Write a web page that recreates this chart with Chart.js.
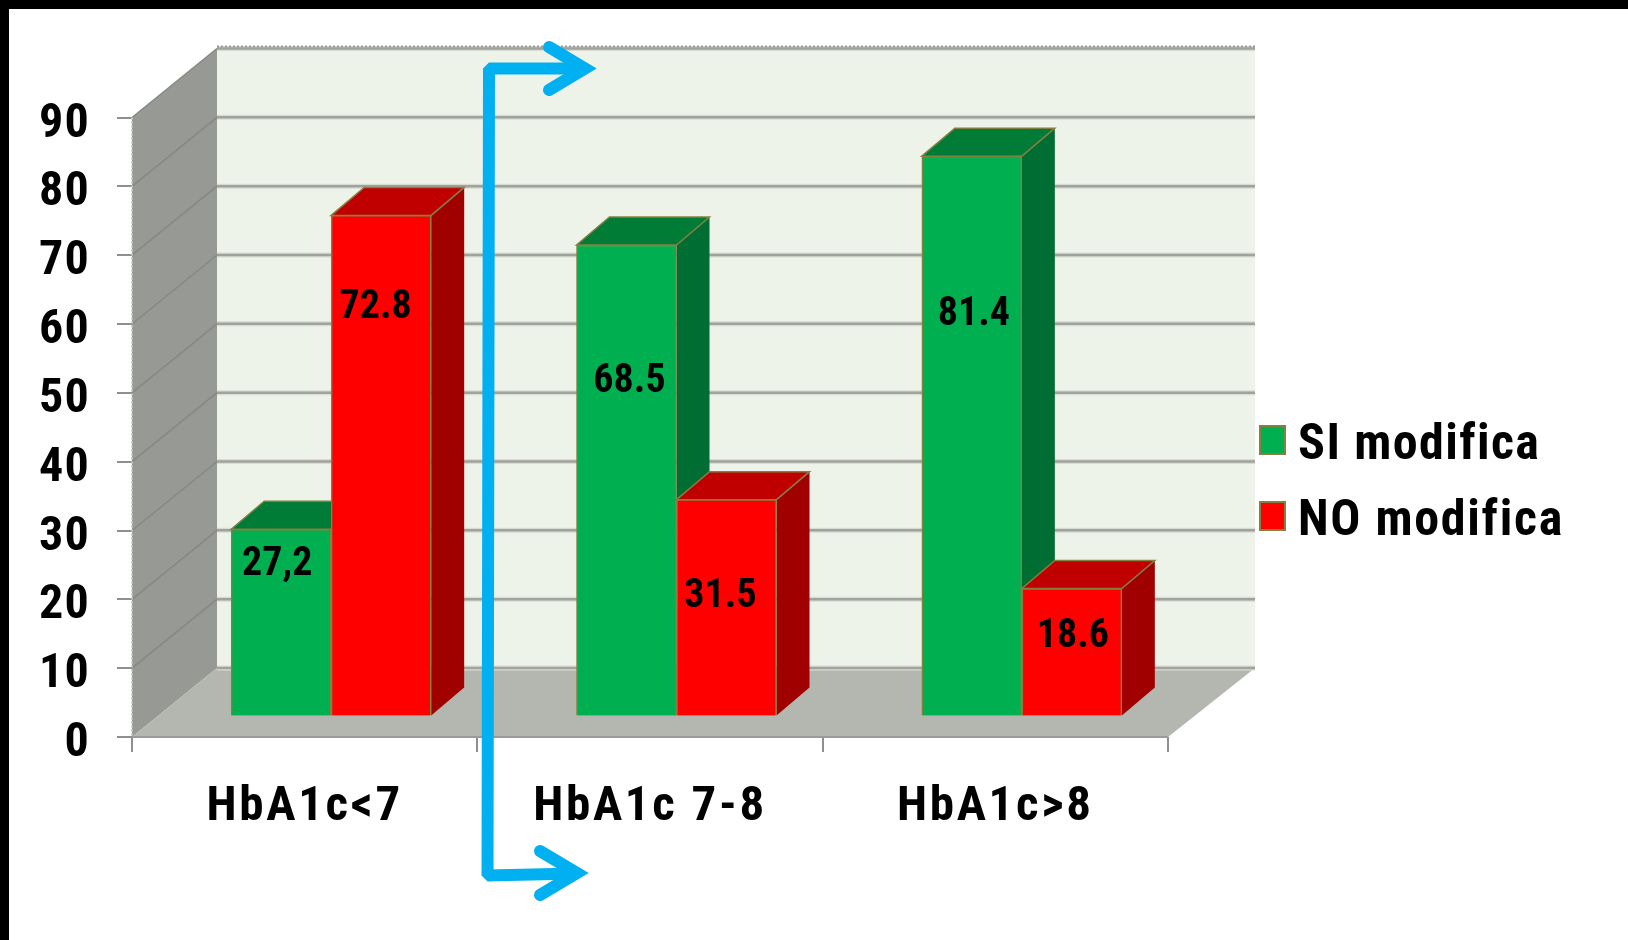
<!DOCTYPE html>
<html>
<head>
<meta charset="utf-8">
<title>HbA1c</title>
<script src="https://cdn.jsdelivr.net/npm/chart.js@4/dist/chart.umd.min.js"></script>
<style>
    html, body { margin: 0; background: #fff; overflow: hidden; }
    #wrap { position: relative; width: 1628px; height: 940px; }
    #chart { position: absolute; left: 0; top: 0; }
    #frame { position: absolute; left: 0; top: 0; right: 0; bottom: 0; border-top: 9px solid #000; border-left: 9px solid #000; pointer-events: none; }
</style>
</head>
<body>
<div id="wrap">
    <canvas id="chart" width="1628" height="940"></canvas>
    <div id="frame"></div>
</div>
<script>
const categories = ["HbA1c<7", "HbA1c 7-8", "HbA1c>8"];
const yTicks = [0, 10, 20, 30, 40, 50, 60, 70, 80, 90];
const siModifica = [27.2, 68.5, 81.4];
const noModifica = [72.8, 31.5, 18.6];
const siLabels = ["27,2", "68.5", "81.4"];
const noLabels = ["72.8", "31.5", "18.6"];

const FONT = '"Roboto Condensed", "Liberation Sans", sans-serif';
const EDGE = "#84803f";

// profondita del grafico 3D
const WALL_DX = 85, WALL_RIGHT_DX = 87, WALL_DY = 69;
const BAR_SHIFT_X = 26.5, BAR_SHIFT_Y = 20.5;
const BAR_DX = 33, BAR_DY = 28;

// dove stanno le etichette dei valori rispetto alla cima della barra
const labelOffsets = [
    [[-4, 36], [3, 137], [2, 159]],
    [[-5.5, 93], [-6, 97], [1, 49]]
];

function poly(ctx, pts, fill) {
    ctx.beginPath();
    pts.forEach((p, i) => i ? ctx.lineTo(p[0], p[1]) : ctx.moveTo(p[0], p[1]));
    ctx.closePath();
    ctx.fillStyle = fill;
    ctx.fill();
}

function line(ctx, x1, y1, x2, y2, color, width) {
    ctx.strokeStyle = color;
    ctx.lineWidth = width;
    ctx.beginPath();
    ctx.moveTo(x1, y1);
    ctx.lineTo(x2, y2);
    ctx.stroke();
}

// Chart.js non ha la spaziatura delle lettere per i tick, ne' uno spostamento verticale sull'asse y
function tuneLabels(scale, spacing, dy) {
    const draw = scale.drawLabels;
    scale.drawLabels = function (area) {
        const ctx = this.ctx;
        ctx.save();
        ctx.letterSpacing = spacing;
        ctx.translate(0, dy);
        draw.call(this, area);
        ctx.restore();
    };
}

const tickTuning = {
    id: "tickTuning",
    beforeDraw(chart) {
        if (chart.$tuned) return;
        chart.$tuned = true;
        tuneLabels(chart.scales.x, "2.7px", 0);
        tuneLabels(chart.scales.y, "1.2px", 7);
    }
};

// pareti e pavimento
const walls = {
    id: "walls",
    beforeDatasetsDraw(chart) {
        const { ctx, scales: { x, y } } = chart;
        const l = x.left, r = x.right, b = y.getPixelForValue(0), t = y.getPixelForValue(90);
        const backL = l + WALL_DX, backR = r + WALL_RIGHT_DX;
        ctx.save();
        poly(ctx, [[backL, t - WALL_DY], [backR, t - WALL_DY], [backR, b - WALL_DY], [backL, b - WALL_DY]], "#eef3ea");
        poly(ctx, [[l, b], [l, t], [backL, t - WALL_DY], [backL, b - WALL_DY]], "#979995");
        poly(ctx, [[l, b], [r, b], [backR, b - WALL_DY], [backL, b - WALL_DY]], "#b4b6b0");

        yTicks.forEach(v => {
            const py = y.getPixelForValue(v);
            if (v > 0) {
                line(ctx, l, py, backL, py - WALL_DY, "#868884", 1.5);
            }
            line(ctx, backL, py - WALL_DY, backR, py - WALL_DY, "#d9dcd3", 5);
            line(ctx, backL, py - WALL_DY, backR, py - WALL_DY, "#a0a29c", 2.5);
        });

        // bordo superiore puntinato e bordo anteriore del pavimento
        ctx.setLineDash([2, 2]);
        line(ctx, backL, t - WALL_DY - 2, backR, t - WALL_DY - 2, "#9b9c98", 2);
        line(ctx, l, t, l, b, "#c4c5c1", 2);
        ctx.setLineDash([]);
        line(ctx, l, b, r, b, "#9b9c98", 2);
        ctx.restore();
    }
};

// le barre restano quelle di Chart.js, spostate indietro, con tetto e fianco aggiunti.
// Il disegno per dataset viene saltato e rifatto dal primo all'ultimo, cosi' il rosso copre il verde
const bars3d = {
    id: "bars3d",
    beforeDatasetDraw() {
        return false;
    },
    afterDatasetsDraw(chart) {
        const { ctx } = chart;
        chart.data.datasets.forEach((ds, d) => {
            const meta = chart.getDatasetMeta(d);
            ctx.save();
            ctx.translate(BAR_SHIFT_X, -BAR_SHIFT_Y);
            meta.data.forEach(bar => {
                const left = bar.x - bar.width / 2, right = bar.x + bar.width / 2;
                poly(ctx, [[right, bar.y], [right + BAR_DX, bar.y - BAR_DY], [right + BAR_DX, bar.base - BAR_DY], [right, bar.base]], ds.sideColor);
                poly(ctx, [[left, bar.y], [left + BAR_DX, bar.y - BAR_DY], [right + BAR_DX, bar.y - BAR_DY], [right, bar.y]], ds.topColor);
                ctx.strokeStyle = EDGE;
                ctx.lineWidth = 1.5;
                ctx.stroke();
            });
            meta.controller.draw();
            ctx.restore();
        });

        ctx.save();
        ctx.font = 'bold 40px ' + FONT;
        ctx.fillStyle = "#000";
        ctx.textAlign = "center";
        ctx.textBaseline = "middle";
        [siLabels, noLabels].forEach((texts, d) => {
            chart.getDatasetMeta(d).data.forEach((bar, i) => {
                const off = labelOffsets[d][i];
                ctx.fillText(texts[i], bar.x + BAR_SHIFT_X + off[0], bar.y - BAR_SHIFT_Y + off[1]);
            });
        });
        ctx.restore();
    }
};

// legenda a destra
const sideLegend = {
    id: "sideLegend",
    afterDraw(chart) {
        const { ctx } = chart;
        const rows = [430, 506];
        const spacing = ["1.4px", "1.7px"];
        ctx.save();
        chart.data.datasets.forEach((ds, i) => {
            ctx.fillStyle = ds.backgroundColor;
            ctx.strokeStyle = EDGE;
            ctx.lineWidth = 2;
            ctx.fillRect(1260, rows[i] - 4, 25, 28);
            ctx.strokeRect(1260, rows[i] - 4, 25, 28);
            ctx.fillStyle = "#000";
            ctx.font = 'bold 50px ' + FONT;
            ctx.letterSpacing = spacing[i];
            ctx.textBaseline = "alphabetic";
            ctx.fillText(ds.label, 1298, rows[i] + 29);
            ctx.letterSpacing = "0px";
        });
        ctx.restore();
    }
};

// frecce azzurre sopra a tutto
const arrows = {
    id: "arrows",
    afterDraw(chart) {
        const { ctx } = chart;
        ctx.save();
        ctx.strokeStyle = "#00b0f0";
        ctx.lineWidth = 12;
        ctx.lineJoin = "bevel";
        ctx.beginPath();
        ctx.moveTo(585, 68.5);
        ctx.lineTo(489, 68.5);
        ctx.lineTo(487.5, 875.5);
        ctx.lineTo(576, 873.5);
        ctx.stroke();

        ctx.lineCap = "round";
        ctx.lineJoin = "miter";
        ctx.miterLimit = 10;
        [[[549, 47], [585, 68.5], [549, 90]], [[540, 851], [577, 873], [540, 895]]].forEach(head => {
            ctx.beginPath();
            ctx.moveTo(head[0][0], head[0][1]);
            ctx.lineTo(head[1][0], head[1][1]);
            ctx.lineTo(head[2][0], head[2][1]);
            ctx.stroke();
        });
        ctx.restore();
    }
};

new Chart(document.getElementById("chart"), {
    type: "bar",
    data: {
        labels: categories,
        datasets: [
            { label: "SI modifica", data: siModifica, backgroundColor: "#00b050", topColor: "#007c36", sideColor: "#006d32", borderColor: EDGE, borderWidth: 1.5, barThickness: 100 },
            { label: "NO modifica", data: noModifica, backgroundColor: "#ff0000", topColor: "#c00000", sideColor: "#a00000", borderColor: EDGE, borderWidth: 1.5, barThickness: 100 }
        ]
    },
    options: {
        responsive: false,
        animation: false,
        layout: { padding: { left: 0, top: 117.5, right: 460, bottom: 0 } },
        plugins: { legend: { display: false }, tooltip: { enabled: false } },
        scales: {
            x: {
                afterFit: scale => { scale.height = 203; },
                grid: { drawOnChartArea: false, drawTicks: true, tickLength: 15, color: "#8f8f8f", lineWidth: 2 },
                border: { display: false },
                ticks: { color: "#000", padding: 26, maxRotation: 0, font: { family: FONT, weight: "bold", size: 49 } }
            },
            y: {
                min: 0,
                max: 90,
                afterBuildTicks: scale => { scale.ticks = yTicks.map(v => ({ value: v })); },
                afterFit: scale => { scale.width = 132; },
                grid: { drawOnChartArea: false, drawTicks: true, tickLength: 15, color: "#8f8f8f", lineWidth: 2 },
                border: { display: false },
                ticks: { color: "#000", padding: 27, font: { family: FONT, weight: "bold", size: 48 } }
            }
        }
    },
    plugins: [tickTuning, walls, bars3d, sideLegend, arrows]
});
</script>
</body>
</html>
